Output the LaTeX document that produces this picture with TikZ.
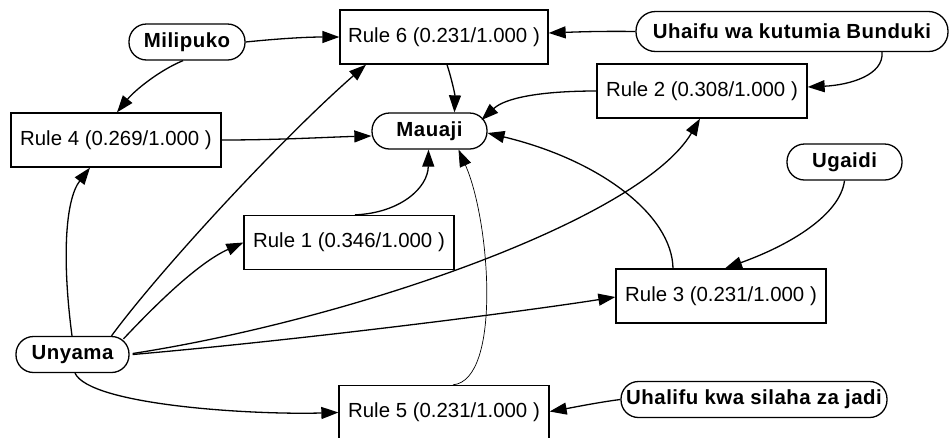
\documentclass[tikz,border=0pt]{standalone}
\usepackage{fontspec}
\setmainfont{Liberation Sans}
\newfontfamily\termfont[LetterSpace=2.5]{Liberation Sans}
\usetikzlibrary{arrows.meta,calc}
\begin{document}
\begin{tikzpicture}[x=1pt,y=-1pt,
  rulebox/.style={draw,line width=1.3pt,rectangle,minimum width=210pt,minimum height=54pt,inner sep=0pt,font=\fontsize{20.4}{24}\selectfont},
  term/.style={draw,line width=1.3pt,rectangle,rounded corners=17.5pt,minimum height=36pt,inner sep=0pt,font=\termfont\bfseries\fontsize{20.4}{24}\selectfont},
  link/.style={line width=1.3pt,-{Triangle[length=17pt,width=12pt]}},
  thinlink/.style={line width=0.7pt,-{Triangle[length=17pt,width=12pt]}},
]
\useasboundingbox (0,0) rectangle (949,437);
% rule boxes
\node[rulebox,minimum width=208pt] (r6) at (444,37) {Rule 6 (0.231/1.000 )};
\node[rulebox] (r4) at (116,140) {Rule 4 (0.269/1.000 )};
\node[rulebox] (r2) at (702,91) {Rule 2 (0.308/1.000 )};
\node[rulebox] (r1) at (349,242.5) {Rule 1 (0.346/1.000 )};
\node[rulebox] (r3) at (721,296) {Rule 3 (0.231/1.000 )};
\node[rulebox] (r5) at (444,412.5) {Rule 5 (0.231/1.000 )};
% terminal nodes
\node[term,minimum width=116pt] (mil) at (187,42) {Milipuko};
\node[term,minimum width=115pt] (mau) at (429.5,131) {Mauaji};
\node[term,minimum width=312pt,minimum height=40pt,rounded corners=19.5pt] (unh) at (792,31.5) {Uhaifu wa kutumia Bunduki};
\node[term,minimum width=115pt] (uga) at (844.5,162) {Ugaidi};
\node[term,minimum width=113pt] (uny) at (72.5,354.5) {Unyama};
\node[term,minimum width=266pt] (uhal) at (754,399.5) {Uhalifu kwa silaha za jadi};
% edges
\draw[link] (mil.east) .. controls (285,38) and (310,37) .. (r6.west);
\draw[link] ($(mil.south)+(-4,0)$) .. controls (160,70) and (135,90) .. ($(r4.north)+(1,0)$);
\draw[link] (unh.west) .. controls (600,31) and (575,32) .. ($(r6.east)+(0,-4)$);
\draw[link] ($(unh.south)+(90,0)$) .. controls (884,75) and (850,85) .. ($(r2.east)+(0,-4)$);
\draw[link] ($(r6.south)+(3,0)$) .. controls (452,80) and (455,95) .. ($(mau.north)+(25,0)$);
\draw[link] (r2.west) .. controls (540,91) and (505,98) .. ($(mau)+(52,-11)$);
\draw[link] (r4.east) .. controls (280,140) and (330,137) .. ($(mau.west)+(0,5)$);
\draw[link] ($(r1.north)+(6,0)$) .. controls (400,213) and (428,188) .. ($(mau.south)+(-1,0)$);
\draw[thinlink] ($(r5.north)+(9,0)$) .. controls (502,380) and (490,220) .. ($(mau.south)+(29,0)$);
\draw[link] ($(r3.north)+(-48,0)$) .. controls (672,215) and (600,160) .. ($(mau)+(58,2)$);
\draw[link] (uga.south) .. controls (840,215) and (790,245) .. ($(r3.north)+(4,0)$);
\draw[link] (uhal.west) .. controls (600,402) and (570,408) .. ($(r5.east)+(0,-1)$);
\draw[link] ($(uny.north)+(-0.5,0)$) .. controls (62,260) and (65,200) .. ($(r4.south)+(-26,0)$);
\draw[link] ($(uny.north)+(39,0)$) .. controls (160,270) and (280,140) .. ($(r6.south)+(-78,0)$);
\draw[link] ($(uny.north)+(51,3)$) .. controls (160,300) and (200,262) .. (r1.west);
\draw[link] ($(uny.east)+(3,-1)$) .. controls (350,320) and (640,220) .. ($(r2.south)+(-2,0)$);
\draw[link] ($(uny.east)+(3,0)$) .. controls (300,340) and (520,312) .. ($(r3.west)+(0,1)$);
\draw[link] ($(uny.south)+(2.5,0)$) .. controls (90,405) and (250,415) .. (r5.west);
\end{tikzpicture}
\end{document}
